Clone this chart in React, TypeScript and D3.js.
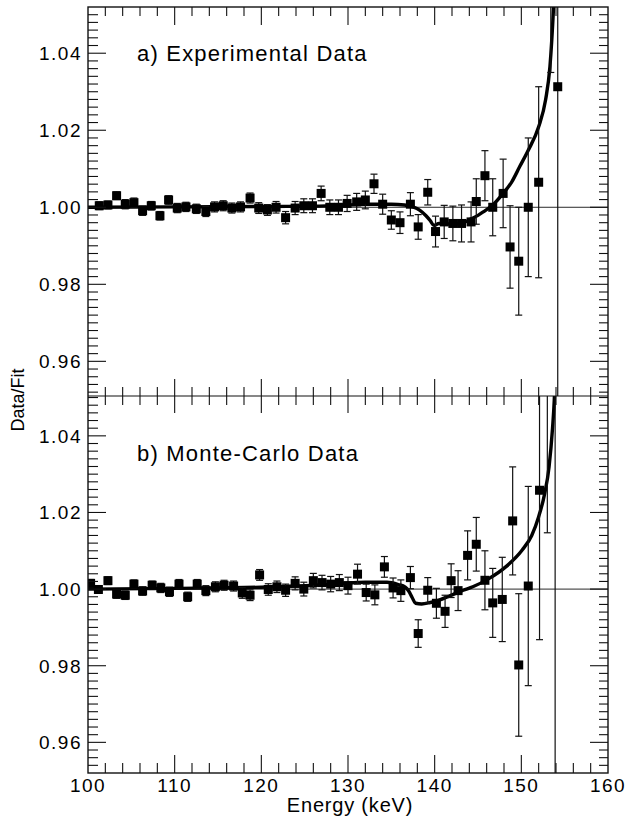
import React, { useEffect, useRef } from "react";
import * as d3 from "d3";

// a) experimental data: energy (keV), data/fit ratio, error
const expEnergy = [101.3, 102.3, 103.3, 104.3, 105.3, 106.3, 107.3, 108.3, 109.3, 110.3, 111.3, 112.5, 113.6, 114.6, 115.6, 116.6, 117.6, 118.7, 119.7, 120.7, 121.7, 122.8, 123.9, 124.9, 125.9, 126.9, 127.9, 128.9, 129.9, 131.0, 132.0, 133.0, 134.0, 135.0, 136.0, 137.2, 138.1, 139.2, 140.1, 141.1, 142.1, 143.1, 144.2, 144.8, 145.8, 146.7, 147.9, 148.7, 149.7, 150.8, 152.0, 153.4, 154.2];
const expRatio = [1.0004, 1.0006, 1.003, 1.0008, 1.0012, 0.9991, 1.0004, 0.9978, 1.0019, 0.9998, 1.0001, 0.9996, 0.9989, 1.0001, 1.0004, 0.9998, 1.0001, 1.0024, 0.9998, 0.9993, 1.0, 0.9973, 0.9998, 1.0004, 1.0004, 1.0036, 1.0, 1.0, 1.001, 1.0014, 1.0019, 1.0061, 1.0008, 0.9967, 0.996, 1.0008, 0.9949, 1.0039, 0.9937, 0.9962, 0.9958, 0.9958, 0.9962, 1.0015, 1.0082, 1.0, 1.0036, 0.9897, 0.986, 1.0, 1.0065, 1.065, 1.0313];
const expError = [0.001, 0.001, 0.001, 0.0012, 0.0012, 0.0012, 0.0011, 0.0011, 0.0011, 0.0012, 0.0012, 0.0012, 0.0013, 0.0013, 0.0013, 0.0013, 0.0013, 0.0013, 0.0014, 0.0014, 0.0015, 0.0016, 0.0017, 0.0018, 0.0018, 0.0019, 0.0019, 0.0019, 0.0021, 0.0022, 0.0023, 0.0025, 0.0026, 0.0024, 0.0028, 0.003, 0.0032, 0.0033, 0.004, 0.0043, 0.0045, 0.0048, 0.0052, 0.0059, 0.0065, 0.0074, 0.0089, 0.0107, 0.014, 0.018, 0.0248, 0.03, 0.15];

// b) Monte-Carlo data
const mcEnergy = [100.3, 101.2, 102.3, 103.3, 104.3, 105.3, 106.3, 107.4, 108.4, 109.4, 110.5, 111.5, 112.6, 113.6, 114.7, 115.7, 116.8, 117.8, 118.7, 119.8, 120.8, 121.8, 122.8, 123.9, 124.9, 126.0, 127.0, 128.0, 129.0, 130.0, 131.1, 132.1, 133.1, 134.2, 135.2, 136.1, 137.2, 138.1, 139.2, 140.2, 141.2, 141.9, 142.7, 143.8, 144.8, 145.8, 146.7, 147.8, 149.0, 149.7, 150.8, 152.1, 153.0, 153.9];
const mcRatio = [1.0015, 0.9999, 1.0022, 0.9987, 0.9984, 1.0013, 0.9995, 1.001, 1.0003, 0.9993, 1.0013, 0.998, 1.0013, 0.9996, 1.0006, 1.001, 1.0008, 0.999, 0.9984, 1.0037, 0.9999, 1.0006, 0.9997, 1.0015, 1.0, 1.0022, 1.0017, 1.0013, 1.0017, 1.0009, 1.0039, 0.9991, 0.9985, 1.0058, 1.0003, 0.9996, 1.003, 0.9884, 0.9997, 0.9963, 0.9942, 1.0022, 0.9996, 1.0088, 1.0117, 1.0023, 0.9964, 0.9973, 1.0178, 0.9802, 1.0008, 1.0258, 1.07, 1.08];
const mcError = [0.001, 0.001, 0.001, 0.0011, 0.0011, 0.0011, 0.0011, 0.0011, 0.0012, 0.0012, 0.0012, 0.0012, 0.0012, 0.0013, 0.0013, 0.0013, 0.0013, 0.0014, 0.0014, 0.0014, 0.0015, 0.0015, 0.0016, 0.0017, 0.0018, 0.0019, 0.0019, 0.002, 0.0021, 0.0022, 0.0026, 0.0022, 0.0026, 0.0027, 0.0026, 0.0028, 0.0029, 0.0036, 0.0033, 0.0039, 0.0042, 0.0044, 0.0052, 0.0064, 0.007, 0.0077, 0.009, 0.011, 0.0141, 0.0186, 0.026, 0.039, 0.0553, 0.2];

// fit curves (data/fit model shape)
const expFitEnergy = [100, 110, 120, 126, 130, 132, 135, 136.5, 137.5, 138.3, 139.0, 139.5, 139.9, 140.5, 141.5, 142.5, 143.5, 144.2, 145.0, 145.6, 146.8, 147.9, 148.9, 149.8, 150.8, 152.0, 152.8, 153.3, 153.7, 153.8];
const expFitRatio = [1.0, 1.0001, 1.0002, 1.0003, 1.0006, 1.0008, 1.0008, 1.0006, 1.0001, 0.9992, 0.9978, 0.9965, 0.9953, 0.9958, 0.9957, 0.9957, 0.9962, 0.997, 0.9979, 0.9988, 1.0008, 1.0036, 1.0066, 1.0105, 1.0148, 1.0209, 1.0279, 1.0365, 1.0512, 1.056];
const mcFitEnergy = [100, 110, 120, 124, 128, 130, 132, 134.5, 135.8, 136.6, 137.0, 137.4, 137.8, 138.5, 139.5, 140.5, 141.8, 143.3, 144.4, 146.3, 148.2, 150.1, 151.2, 152.0, 152.7, 153.2, 153.6, 153.8, 153.9];
const mcFitRatio = [1.0, 1.0002, 1.0005, 1.0008, 1.0012, 1.0016, 1.0018, 1.0018, 1.0012, 1.0005, 0.9995, 0.9978, 0.9963, 0.9961, 0.9965, 0.9971, 0.9983, 0.9997, 1.0006, 1.0028, 1.0058, 1.0102, 1.014, 1.0189, 1.025, 1.0319, 1.042, 1.0493, 1.055];

const xTickLabels = [100, 110, 120, 130, 140, 150, 160];
const yTickLabels = [0.96, 0.98, 1.0, 1.02, 1.04];

const FONT = "'Liberation Sans', Arial, Helvetica, sans-serif";

export default function App() {
  const ref = useRef<SVGSVGElement>(null);

  useEffect(() => {
    const svg = d3.select(ref.current);
    svg.selectAll("*").remove();

    const left = 88, right = 608;
    const x = d3.scaleLinear().domain([100, 160]).range([left, right]);

    const panels = [
      {
        id: "a", title: "a) Experimental Data", titleY: 61,
        y: d3.scaleLinear().domain([0.951, 1.052]).range([396, 7]),
        energy: expEnergy, ratio: expRatio, err: expError,
        fitE: expFitEnergy, fitR: expFitRatio, maxK: 526
      },
      {
        id: "b", title: "b) Monte-Carlo Data", titleY: 461,
        y: d3.scaleLinear().domain([0.952, 1.0504]).range([773, 396]),
        energy: mcEnergy, ratio: mcRatio, err: mcError,
        fitE: mcFitEnergy, fitR: mcFitRatio, maxK: 525
      }
    ];

    const defs = svg.append("defs");

    panels.forEach((p) => {
      const [yBottom, yTop] = p.y.range();
      defs.append("clipPath").attr("id", "clip-" + p.id)
        .append("rect")
        .attr("x", left).attr("y", yTop)
        .attr("width", right - left).attr("height", yBottom - yTop);

      const plot = svg.append("g").attr("clip-path", `url(#clip-${p.id})`);

      // reference line at 1.00
      plot.append("line")
        .attr("x1", left).attr("x2", right)
        .attr("y1", p.y(1)).attr("y2", p.y(1))
        .attr("stroke", "#111").attr("stroke-width", 0.9);

      // fit curve
      const line = d3.line<number>()
        .x((d, i) => x(p.fitE[i]))
        .y((d) => p.y(d))
        .curve(d3.curveMonotoneX);
      plot.append("path")
        .datum(p.fitR)
        .attr("d", line)
        .attr("fill", "none")
        .attr("stroke", "#000")
        .attr("stroke-width", 3.4);

      const idx = d3.range(p.energy.length);

      // error bars
      plot.append("g").selectAll("line").data(idx).join("line")
        .attr("x1", (i) => x(p.energy[i])).attr("x2", (i) => x(p.energy[i]))
        .attr("y1", (i) => p.y(p.ratio[i] + p.err[i]))
        .attr("y2", (i) => p.y(p.ratio[i] - p.err[i]))
        .attr("stroke", "#111").attr("stroke-width", 1.2);
      const caps = plot.append("g");
      [1, -1].forEach((s) => {
        caps.append("g").selectAll("line").data(idx).join("line")
          .attr("x1", (i) => x(p.energy[i]) - 3.5).attr("x2", (i) => x(p.energy[i]) + 3.5)
          .attr("y1", (i) => p.y(p.ratio[i] + s * p.err[i]))
          .attr("y2", (i) => p.y(p.ratio[i] + s * p.err[i]))
          .attr("stroke", "#111").attr("stroke-width", 1.2);
      });

      // points
      plot.append("g").selectAll("rect").data(idx).join("rect")
        .attr("x", (i) => x(p.energy[i]) - 4.5)
        .attr("y", (i) => p.y(p.ratio[i]) - 4.5)
        .attr("width", 9).attr("height", 9)
        .attr("fill", "#000");

      // y ticks (every 0.002, long at labelled values)
      const ax = svg.append("g").attr("stroke", "#111").attr("stroke-width", 1.1);
      d3.range(476, p.maxK + 1).forEach((k) => {
        const v = k * 0.002;
        const yy = p.y(v);
        if (yy < yTop + 1 || yy > yBottom - 1) return;
        const major = k % 10 === 0;
        ax.append("line").attr("x1", left).attr("x2", left + (major ? 18 : 10))
          .attr("y1", yy).attr("y2", yy);
        ax.append("line").attr("x1", right).attr("x2", right - (major ? 18 : 9))
          .attr("y1", yy).attr("y2", yy);
      });

      // y tick labels
      svg.append("g").selectAll("text").data(yTickLabels).join("text")
        .attr("x", 82).attr("y", (d) => p.y(d))
        .attr("dy", "0.36em")
        .attr("text-anchor", "end")
        .style("font-family", FONT).style("font-size", "19px")
        .style("letter-spacing", "1.5px")
        .text((d) => d3.format(".2f")(d));

      // panel title
      svg.append("text")
        .attr("x", 137).attr("y", p.titleY)
        .style("font-family", FONT).style("font-size", "22px")
        .style("letter-spacing", "1.2px")
        .text(p.title);
    });

    // x ticks on top, middle and bottom
    const xt = svg.append("g").attr("stroke", "#111").attr("stroke-width", 1.1);
    d3.range(102, 160, 2).forEach((v) => {
      const major = v % 10 === 0;
      const xx = x(v);
      xt.append("line").attr("x1", xx).attr("x2", xx).attr("y1", 7).attr("y2", 7 + (major ? 18 : 9));
      xt.append("line").attr("x1", xx).attr("x2", xx).attr("y1", 773).attr("y2", 773 - (major ? 18 : 10));
      xt.append("line").attr("x1", xx).attr("x2", xx)
        .attr("y1", 396 - (major ? 17 : 9)).attr("y2", 396 + (major ? 17 : 9));
    });

    // frame
    svg.append("rect")
      .attr("x", left).attr("y", 7)
      .attr("width", right - left).attr("height", 773 - 7)
      .attr("fill", "none").attr("stroke", "#111").attr("stroke-width", 1.4);
    svg.append("line")
      .attr("x1", left).attr("x2", right).attr("y1", 396).attr("y2", 396)
      .attr("stroke", "#111").attr("stroke-width", 1.1);

    // x tick labels
    svg.append("g").selectAll("text").data(xTickLabels).join("text")
      .attr("x", (d) => x(d)).attr("y", 792)
      .attr("text-anchor", "middle")
      .style("font-family", FONT).style("font-size", "19px")
      .style("letter-spacing", "1.5px")
      .text((d) => d);

    // axis titles
    svg.append("text")
      .attr("x", 350).attr("y", 812)
      .attr("text-anchor", "middle")
      .style("font-family", FONT).style("font-size", "20px")
      .style("letter-spacing", "0.8px")
      .text("Energy (keV)");
    svg.append("text")
      .attr("transform", "translate(24,400) rotate(-90)")
      .attr("text-anchor", "middle")
      .style("font-family", FONT).style("font-size", "18px")
      .text("Data/Fit");
  }, []);

  return (
    <div style={{ position: "absolute", left: 0, top: 0 }}>
      <svg ref={ref} width={627} height={828} style={{ background: "#fff", display: "block" }} />
    </div>
  );
}
